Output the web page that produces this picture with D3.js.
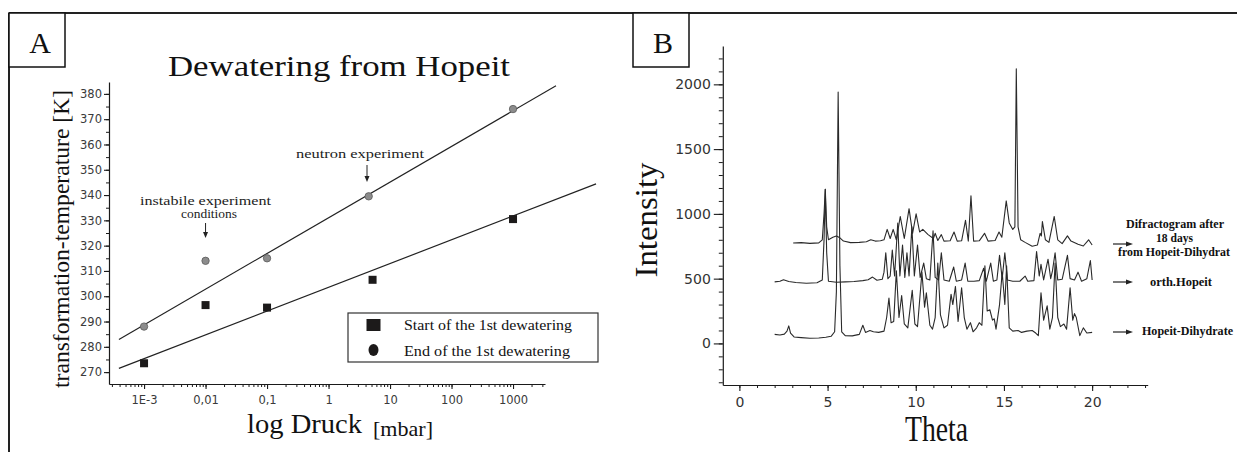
<!DOCTYPE html>
<html>
<head>
<meta charset="utf-8">
<title>Dewatering from Hopeit</title>
<script src="https://d3js.org/d3.v7.min.js"></script>
<style>
  body { margin: 0; background: #fff; }
  svg { display: block; }
</style>
</head>
<body>
<div id="chart"></div>
<script>
// ---------- panel A: transformation temperature vs log pressure ----------
const startPressure = [0.001, 0.01, 0.1, 5.2, 1000];
const startTemp     = [273.5, 296.5, 295.5, 306.5, 330.5];
const endPressure   = [0.001, 0.01, 0.1, 4.5, 1000];
const endTemp       = [288, 314, 315, 339.5, 374];
// fitted lines (end points)
const startFitPressure = [0.00039, 22400];
const startFitTemp     = [271.5, 344.4];
const endFitPressure   = [0.00039, 5000];
const endFitTemp       = [282.9, 383.2];
const pressureTicks  = [0.001, 0.01, 0.1, 1, 10, 100, 1000];
const pressureLabels = ["1E-3", "0,01", "0,1", "1", "10", "100", "1000"];
const tempTicks = [270, 280, 290, 300, 310, 320, 330, 340, 350, 360, 370, 380];

// ---------- panel B: diffractograms ----------
const dihydrateTheta = [2.0, 2.3, 2.55, 2.7, 2.8, 2.9, 3.1, 3.5, 4.0, 4.5, 4.9, 5.2, 5.4, 5.5, 5.6, 5.7, 5.8, 6.0, 6.4, 6.8,
  7.0, 7.15, 7.4, 7.6, 7.9, 8.2, 8.35, 8.48, 8.6, 8.75, 8.9, 9.05, 9.2, 9.35, 9.55, 9.8, 9.95, 10.1, 10.35, 10.5,
  10.6, 10.8, 10.95, 11.1, 11.25, 11.4, 11.6, 11.8, 12.0, 12.1, 12.25, 12.4, 12.6, 12.75, 12.9, 13.1, 13.25, 13.45, 13.6, 13.75,
  13.92, 14.05, 14.2, 14.35, 14.45, 14.55, 14.75, 14.9, 15.05, 15.15, 15.3, 15.5, 15.8, 16.0, 16.3, 16.6, 16.8, 16.95, 17.1, 17.25,
  17.45, 17.6, 17.75, 17.9, 18.05, 18.2, 18.4, 18.55, 18.75, 18.9, 19.0, 19.1, 19.3, 19.5, 19.7, 20.0];
const dihydrateI = [70, 65, 72, 95, 135, 80, 50, 45, 40, 42, 48, 55, 90, 400, 1940, 600, 90, 60, 58, 70,
  140, 85, 100, 90, 85, 95, 200, 350, 160, 170, 560, 200, 370, 150, 120, 410, 150, 130, 550, 280,
  390, 140, 110, 200, 620, 220, 120, 140, 380, 300, 440, 170, 430, 200, 110, 160, 90, 120, 160, 140,
  600, 250, 260, 180, 190, 110, 300, 550, 300, 600, 120, 95, 100, 85, 95, 100, 80, 60, 390, 180,
  290, 110, 200, 620, 200, 130, 150, 110, 430, 180, 230, 200, 60, 120, 80, 85];

const hopeitTheta = [2.0, 2.3, 2.5, 2.8, 3.2, 3.8, 4.4, 4.7, 4.8, 4.87, 4.95, 5.05, 5.5, 6.0, 6.5, 7.0, 7.3, 7.55, 7.8, 8.1,
  8.2, 8.3, 8.42, 8.55, 8.67, 8.8, 8.98, 9.1, 9.25, 9.38, 9.5, 9.62, 9.78, 9.92, 10.1, 10.25, 10.45, 10.6, 10.8, 10.98,
  11.1, 11.3, 11.45, 11.6, 11.9, 12.15, 12.3, 12.6, 12.8, 12.95, 13.3, 13.6, 13.85, 14.0, 14.25, 14.4, 14.6, 14.75, 14.9, 15.05,
  15.2, 15.5, 15.9, 16.2, 16.35, 16.7, 16.85, 17.0, 17.1, 17.25, 17.5, 17.65, 17.75, 17.9, 18.05, 18.3, 18.6, 18.75, 19.0, 19.2,
  19.4, 19.7, 19.9, 20.0];
const hopeitI = [475, 480, 492, 478, 470, 465, 468, 490, 800, 1190, 700, 480, 472, 475, 478, 485, 492, 512, 488, 495,
  550, 700, 500, 520, 720, 520, 930, 520, 760, 510, 700, 520, 900, 520, 760, 510, 620, 500, 490, 870,
  510, 490, 700, 490, 480, 590, 480, 490, 620, 480, 480, 485, 580, 480, 620, 480, 490, 680, 500, 700,
  490, 480, 480, 520, 480, 485, 710, 520, 610, 490, 650, 500, 560, 700, 490, 495, 680, 500, 490, 550,
  480, 500, 640, 490];

const agedTheta = [3.05, 3.5, 4.0, 4.5, 4.7, 4.8, 4.87, 4.95, 5.05, 5.3, 5.5, 5.7, 5.9, 6.3, 6.8, 7.2, 7.45, 7.7, 8.0, 8.2,
  8.38, 8.55, 8.72, 8.9, 9.12, 9.35, 9.62, 9.82, 10.02, 10.22, 10.4, 10.7, 11.0, 11.1, 11.25, 11.45, 11.6, 11.95, 12.17, 12.35,
  12.6, 12.82, 12.98, 13.13, 13.28, 13.6, 13.9, 14.1, 14.5, 14.72, 14.88, 15.13, 15.3, 15.5, 15.62, 15.7, 15.8, 15.95, 16.2, 16.6,
  16.9, 17.05, 17.12, 17.18, 17.35, 17.55, 17.85, 18.05, 18.3, 18.6, 18.8, 19.2, 19.5, 19.8, 20.0];
const agedI = [775, 778, 772, 776, 800, 1000, 1190, 900, 800, 820, 830, 815, 790, 778, 780, 785, 800, 790, 792, 800,
  880, 810, 880, 800, 980, 810, 1040, 850, 1000, 860, 880, 840, 810, 850, 795, 840, 790, 792, 860, 790,
  792, 950, 790, 1140, 790, 792, 850, 790, 795, 860, 820, 1100, 930, 880, 900, 2120, 900, 800, 780, 750,
  760, 850, 830, 940, 800, 780, 980, 800, 770, 830, 790, 765, 752, 800, 760];

const intensityTicks = [0, 500, 1000, 1500, 2000];
const thetaTicks = [0, 5, 10, 15, 20];

const W = 1237, H = 452;
const ink = "#1a1a1a";
const serif = "'Liberation Serif', 'Times New Roman', serif";
const sans = "'DejaVu Sans', sans-serif";

const svg = d3.select("#chart").append("svg")
  .attr("width", W).attr("height", H)
  .style("background", "#fff");

// outer frame: top rule and left rule
svg.append("line").attr("x1", 9).attr("x2", W).attr("y1", 13).attr("y2", 13)
  .attr("stroke", "#222").attr("stroke-width", 2);
svg.append("line").attr("x1", 9).attr("x2", 9).attr("y1", 13).attr("y2", H)
  .attr("stroke", "#222").attr("stroke-width", 2);

// panel letter boxes
function letterBox(x, label, cx) {
  svg.append("rect").attr("x", x).attr("y", 13).attr("width", 56).attr("height", 54)
    .attr("fill", "#fff").attr("stroke", "#111").attr("stroke-width", 1.5);
  svg.append("text").attr("x", cx).attr("y", 53).attr("text-anchor", "middle")
    .attr("font-family", serif).attr("font-size", 30).attr("fill", "#111").text(label);
}
letterBox(9, "A", 40);
letterBox(633, "B", 663);

function styleAxis(g, size, color) {
  g.select(".domain").attr("stroke", ink).attr("stroke-width", 1.2);
  g.selectAll(".tick line").attr("stroke", ink).attr("stroke-width", 1.1);
  g.selectAll("text").attr("font-family", sans).attr("font-size", size).attr("fill", color);
}

// ===================== panel A =====================
const xA = d3.scaleLog().domain([Math.pow(10, -3.57), Math.pow(10, 3.52)]).range([109, 545]);
const yA = d3.scaleLinear().domain([265.3, 384.7]).range([384, 82]);

const gA = svg.append("g");

// minor ticks
gA.append("g").attr("transform", "translate(0,384)")
  .call(d3.axisBottom(xA).tickValues(xA.ticks()).tickFormat("").tickSize(3).tickSizeOuter(0))
  .call(g => { g.select(".domain").remove(); g.selectAll("line").attr("stroke", ink); });
gA.append("g").attr("transform", "translate(109,0)")
  .call(d3.axisLeft(yA).tickValues(yA.ticks(24)).tickFormat("").tickSize(3).tickSizeOuter(0))
  .call(g => { g.select(".domain").remove(); g.selectAll("line").attr("stroke", ink); });

gA.append("g").attr("transform", "translate(0,384)")
  .call(d3.axisBottom(xA).tickValues(pressureTicks)
    .tickFormat((d, i) => pressureLabels[i]).tickSize(5).tickPadding(7).tickSizeOuter(0))
  .call(g => styleAxis(g, 11.5, "#3a3a3a"));
gA.append("g").attr("transform", "translate(109,0)")
  .call(d3.axisLeft(yA).tickValues(tempTicks).tickSize(5).tickPadding(2).tickSizeOuter(0))
  .call(g => styleAxis(g, 11.5, "#3a3a3a"));

// fit lines
const fitLine = d3.line().x(d => xA(d[0])).y(d => yA(d[1]));
gA.append("path").datum(d3.zip(endFitPressure, endFitTemp)).attr("d", fitLine)
  .attr("fill", "none").attr("stroke", "#222").attr("stroke-width", 1.2);
gA.append("path").datum(d3.zip(startFitPressure, startFitTemp)).attr("d", fitLine)
  .attr("fill", "none").attr("stroke", "#222").attr("stroke-width", 1.2);

// points
gA.selectAll("rect.start").data(d3.zip(startPressure, startTemp)).join("rect")
  .attr("class", "start")
  .attr("x", d => xA(d[0]) - 4).attr("y", d => yA(d[1]) - 4)
  .attr("width", 8).attr("height", 8).attr("fill", "#1c1a1a");
gA.selectAll("circle.end").data(d3.zip(endPressure, endTemp)).join("circle")
  .attr("class", "end")
  .attr("cx", d => xA(d[0])).attr("cy", d => yA(d[1])).attr("r", 3.7)
  .attr("fill", "#8c8c8c").attr("stroke", "#5a5a5a").attr("stroke-width", 0.8);

// title and axis titles
gA.append("text").attr("x", 168).attr("y", 76)
  .attr("font-family", serif).attr("font-size", 30).attr("fill", "#111")
  .attr("textLength", 342).attr("lengthAdjust", "spacingAndGlyphs")
  .text("Dewatering from Hopeit");
gA.append("text").attr("transform", "translate(69,239) rotate(-90)").attr("x", -149)
  .attr("font-family", serif).attr("font-size", 23).attr("fill", "#111")
  .attr("textLength", 298).attr("lengthAdjust", "spacingAndGlyphs")
  .text("transformation-temperature [K]");
gA.append("text").attr("x", 247).attr("y", 433)
  .attr("font-family", serif).attr("font-size", 27).attr("fill", "#111")
  .attr("textLength", 115).attr("lengthAdjust", "spacingAndGlyphs")
  .text("log Druck");
gA.append("text").attr("x", 373).attr("y", 436)
  .attr("font-family", serif).attr("font-size", 21).attr("fill", "#111")
  .attr("textLength", 60).attr("lengthAdjust", "spacingAndGlyphs")
  .text("[mbar]");

// annotations
function note(x, y, len, txt) {
  gA.append("text").attr("x", x).attr("y", y)
    .attr("font-family", serif).attr("font-size", 13.5).attr("fill", "#222")
    .attr("textLength", len).attr("lengthAdjust", "spacingAndGlyphs").text(txt);
}
note(140, 205, 131, "instabile experiment");
note(181, 218, 56, "conditions");
note(296, 158, 128, "neutron experiment");

function downArrow(x, y1, y2) {
  gA.append("line").attr("x1", x).attr("x2", x).attr("y1", y1).attr("y2", y2 - 4)
    .attr("stroke", "#222").attr("stroke-width", 1);
  gA.append("path").attr("d", `M${x - 2.5},${y2 - 6}L${x + 2.5},${y2 - 6}L${x},${y2}Z`).attr("fill", "#222");
}
downArrow(xA(0.01), 223, 238);
downArrow(367, 165, 182);

// legend
const leg = gA.append("g");
leg.append("rect").attr("x", 348).attr("y", 313).attr("width", 250).attr("height", 49)
  .attr("fill", "#fff").attr("stroke", "#333").attr("stroke-width", 1.2);
leg.append("rect").attr("x", 366.5).attr("y", 319).attr("width", 14).attr("height", 12).attr("fill", "#1c1a1a");
leg.append("ellipse").attr("cx", 373.5).attr("cy", 350).attr("rx", 5).attr("ry", 6).attr("fill", "#1c1a1a");
leg.append("text").attr("x", 404).attr("y", 330)
  .attr("font-family", serif).attr("font-size", 15.5).attr("fill", "#111")
  .attr("textLength", 168).attr("lengthAdjust", "spacingAndGlyphs")
  .text("Start of the 1st dewatering");
leg.append("text").attr("x", 404).attr("y", 356)
  .attr("font-family", serif).attr("font-size", 15.5).attr("fill", "#111")
  .attr("textLength", 166).attr("lengthAdjust", "spacingAndGlyphs")
  .text("End of the 1st dewatering");

// ===================== panel B =====================
const xB = d3.scaleLinear().domain([-0.94, 23.15]).range([722.8, 1147.7]);
const yB = d3.scaleLinear().domain([-321, 2296]).range([385, 46]);

const gB = svg.append("g");

gB.append("g").attr("transform", "translate(0,385)")
  .call(d3.axisBottom(xB).tickValues(xB.ticks(24)).tickFormat("").tickSize(3).tickSizeOuter(0))
  .call(g => { g.select(".domain").remove(); g.selectAll("line").attr("stroke", ink); });
gB.append("g").attr("transform", "translate(722.8,0)")
  .call(d3.axisLeft(yB).tickValues(yB.ticks(26)).tickFormat("").tickSize(4).tickSizeOuter(0))
  .call(g => { g.select(".domain").remove(); g.selectAll("line").attr("stroke", ink); });

gB.append("g").attr("transform", "translate(0,385)")
  .call(d3.axisBottom(xB).tickValues(thetaTicks).tickSize(6).tickPadding(6).tickSizeOuter(0))
  .call(g => styleAxis(g, 14, "#333"));
gB.append("g").attr("transform", "translate(722.8,0)")
  .call(d3.axisLeft(yB).tickValues(intensityTicks).tickFormat(d3.format("d"))
    .tickSize(9).tickPadding(3).tickSizeOuter(0))
  .call(g => styleAxis(g, 14, "#333"));

const trace = d3.line().x(d => xB(d[0])).y(d => yB(d[1]));
[[dihydrateTheta, dihydrateI], [hopeitTheta, hopeitI], [agedTheta, agedI]].forEach(([t, v]) => {
  gB.append("path").datum(d3.zip(t, v)).attr("d", trace)
    .attr("fill", "none").attr("stroke", "#2a2a2a").attr("stroke-width", 1.1)
    .attr("stroke-linejoin", "round");
});

gB.append("text").attr("transform", "translate(657,220) rotate(-90)").attr("x", -57.5)
  .attr("font-family", serif).attr("font-size", 32).attr("fill", "#111")
  .attr("textLength", 115).attr("lengthAdjust", "spacingAndGlyphs")
  .text("Intensity");
gB.append("text").attr("x", 905).attr("y", 441)
  .attr("font-family", serif).attr("font-size", 35).attr("fill", "#111")
  .attr("textLength", 63).attr("lengthAdjust", "spacingAndGlyphs")
  .text("Theta");

// trace labels with arrows
function rightArrow(y) {
  gB.append("line").attr("x1", 1113).attr("x2", 1127).attr("y1", y).attr("y2", y)
    .attr("stroke", "#222").attr("stroke-width", 1.2);
  gB.append("path").attr("d", `M1126,${y - 2.5}L1133,${y}L1126,${y + 2.5}Z`).attr("fill", "#222");
}
function tag(x, y, len, txt) {
  gB.append("text").attr("x", x).attr("y", y)
    .attr("font-family", serif).attr("font-weight", "bold").attr("font-size", 12.5).attr("fill", "#111")
    .attr("textLength", len).attr("lengthAdjust", "spacingAndGlyphs").text(txt);
}
rightArrow(244);
rightArrow(282);
rightArrow(332);
tag(1126, 228, 98, "Difractogram after");
tag(1156, 242, 37, "18 days");
tag(1118, 256, 112, "from Hopeit-Dihydrat");
tag(1150, 286, 62, "orth.Hopeit");
tag(1142, 335, 91, "Hopeit-Dihydrate");
</script>
</body>
</html>
